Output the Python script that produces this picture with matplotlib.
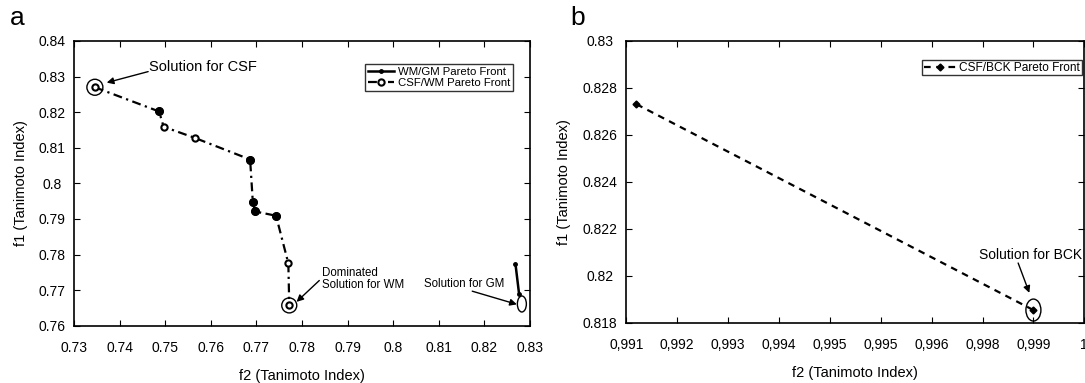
import matplotlib
matplotlib.use("Agg")
import matplotlib.pyplot as plt
from matplotlib.patches import Ellipse
from matplotlib.transforms import ScaledTranslation

plt.rcParams['font.family'] = ['Liberation Sans', 'DejaVu Sans']

# ---- Panel a data ----
csf_wm_f2 = [0.7345, 0.7486, 0.7496, 0.7564, 0.7686, 0.7692, 0.7697, 0.7743, 0.7770, 0.7772]
csf_wm_f1 = [0.8270, 0.8202, 0.8159, 0.8128, 0.8067, 0.7947, 0.7921, 0.7909, 0.7775, 0.7657]
filled_idx = [1, 4, 5, 6, 7]
wm_gm_f2 = [0.8269, 0.8277]
wm_gm_f1 = [0.7773, 0.7688]
a_xticks = [0.73, 0.74, 0.75, 0.76, 0.77, 0.78, 0.79, 0.80, 0.81, 0.82, 0.83]
a_xticklabels = ['0.73', '0.74', '0.75', '0.76', '0.77', '0.78', '0.79', '0.8', '0.81', '0.82', '0.83']
a_yticks = [0.76, 0.77, 0.78, 0.79, 0.80, 0.81, 0.82, 0.83, 0.84]
a_yticklabels = ['0.76', '0.77', '0.78', '0.79', '0.8', '0.81', '0.82', '0.83', '0.84']

# ---- Panel b data ----
csf_bck_f2 = [0.9912, 0.9990]
csf_bck_f1 = [0.8273, 0.81855]
b_xticks = [0.991, 0.992, 0.993, 0.994, 0.995, 0.996, 0.997, 0.998, 0.999, 1.0]
b_xticklabels = ['0,991', '0,992', '0,993', '0,994', '0,995', '0,995', '0,996', '0,998', '0,999', '1']
b_yticks = [0.818, 0.820, 0.822, 0.824, 0.826, 0.828, 0.830]
b_yticklabels = ['0.818', '0.82', '0.822', '0.824', '0.826', '0.828', '0.83']

W, H = 1085, 383
fig = plt.figure(figsize=(W / 100, H / 100), dpi=100)

axA = fig.add_axes([74.4 / W, (H - 325.7) / H, 455.2 / W, 284.7 / H])
axB = fig.add_axes([626.3 / W, (H - 323.0) / H, 458.0 / W, 282.3 / H])

fs = 10
for ax in (axA, axB):
    ax.tick_params(direction='in', top=True, right=True, length=4, width=0.8, labelsize=fs)
    for s in ax.spines.values():
        s.set_linewidth(1.2)

arrow = dict(arrowstyle='-|>', color='black', lw=1.0, mutation_scale=10, shrinkA=0, shrinkB=0)


def draw_ellipse(ax, x, y, wpx, hpx):
    tr = fig.dpi_scale_trans + ScaledTranslation(x, y, ax.transData)
    e = Ellipse((0, 0), width=wpx / 100, height=hpx / 100, fill=False, lw=1.0,
                edgecolor='black', transform=tr, clip_on=False)
    ax.add_patch(e)


# Panel a
axA.plot(wm_gm_f2, wm_gm_f1, '-', color='black', lw=1.8, marker='.', ms=5,
         label='WM/GM Pareto Front')
axA.plot(csf_wm_f2, csf_wm_f1, linestyle=(0, (4, 2, 1, 2)), color='black', lw=1.6,
         marker='o', ms=4.5, mfc='white', mec='black', mew=1.5, label='CSF/WM Pareto Front')
axA.plot([csf_wm_f2[i] for i in filled_idx], [csf_wm_f1[i] for i in filled_idx], 'o',
         color='black', ms=5.5)
axA.set_xlim(0.73, 0.83)
axA.set_ylim(0.76, 0.84)
axA.set_xticks(a_xticks)
axA.set_xticklabels(a_xticklabels)
axA.set_yticks(a_yticks)
axA.set_yticklabels(a_yticklabels)
axA.tick_params(axis='y', pad=16)
for t in axA.get_yticklabels():
    t.set_ha('center')
axA.tick_params(axis='x', pad=11)
axA.set_xlabel('f2 (Tanimoto Index)', fontsize=10.5, labelpad=10)
axA.set_ylabel('f1 (Tanimoto Index)', fontsize=10.5, labelpad=8)

legA = axA.legend(loc='upper right', fontsize=8.2, frameon=True, fancybox=False,
                  edgecolor='black', handlelength=2.3, borderpad=0.25, labelspacing=0.1,
                  handletextpad=0.3, borderaxespad=0.0, bbox_to_anchor=(0.9635, 0.919))
legA.get_frame().set_linewidth(1.0)

draw_ellipse(axA, csf_wm_f2[0], csf_wm_f1[0], 16, 16)
draw_ellipse(axA, csf_wm_f2[-1], csf_wm_f1[-1], 15, 15)
draw_ellipse(axA, 0.8283, 0.7661, 9, 16)

axA.text(0.7464, 0.8327, 'Solution for CSF', fontsize=10.5, ha='left', va='center')
axA.annotate('', xy=(0.7371, 0.8283), xytext=(0.7462, 0.8314), arrowprops=arrow)

axA.text(0.7843, 0.7730, 'Dominated\nSolution for WM', fontsize=8.3, ha='left', va='center',
         linespacing=1.0)
axA.annotate('', xy=(0.7788, 0.7667), xytext=(0.7838, 0.7727), arrowprops=arrow)

axA.text(0.8069, 0.7717, 'Solution for GM', fontsize=8.3, ha='left', va='center')
axA.annotate('', xy=(0.8272, 0.7660), xytext=(0.8174, 0.7697), arrowprops=arrow)

# Panel b
axB.plot(csf_bck_f2, csf_bck_f1, linestyle=(0, (3, 2.5)), color='black', lw=1.6,
         marker='D', ms=3.5, mfc='black', mec='black', label='CSF/BCK Pareto Front')
axB.set_xlim(0.991, 1.0)
axB.set_ylim(0.818, 0.830)
axB.set_xticks(b_xticks)
axB.set_xticklabels(b_xticklabels)
axB.set_yticks(b_yticks)
axB.set_yticklabels(b_yticklabels)
axB.tick_params(axis='y', pad=19)
for t in axB.get_yticklabels():
    t.set_ha('center')
axB.tick_params(axis='x', pad=11)
axB.set_xlabel('f2 (Tanimoto Index)', fontsize=10.5, labelpad=10)
axB.set_ylabel('f1 (Tanimoto Index)', fontsize=10.5, labelpad=8)
legB = axB.legend(loc='upper right', fontsize=8.6, frameon=True, fancybox=False,
                  edgecolor='black', handlelength=2.8, borderpad=0.15, handletextpad=0.2,
                  borderaxespad=0.0, bbox_to_anchor=(0.995, 0.932))
legB.get_frame().set_linewidth(1.0)
draw_ellipse(axB, csf_bck_f2[-1], csf_bck_f1[-1], 15, 22)
axB.text(0.99995, 0.8209, 'Solution for BCK', fontsize=10, ha='right', va='center')
axB.annotate('', xy=(0.99892, 0.81928), xytext=(0.99870, 0.82055), arrowprops=arrow)

fig.text(10 / W, 1 - 18 / H, 'a', fontsize=19, va='center', ha='left')
fig.text(570 / W, 1 - 18 / H, 'b', fontsize=19, va='center', ha='left')

fig.savefig('out.png', dpi=100)
